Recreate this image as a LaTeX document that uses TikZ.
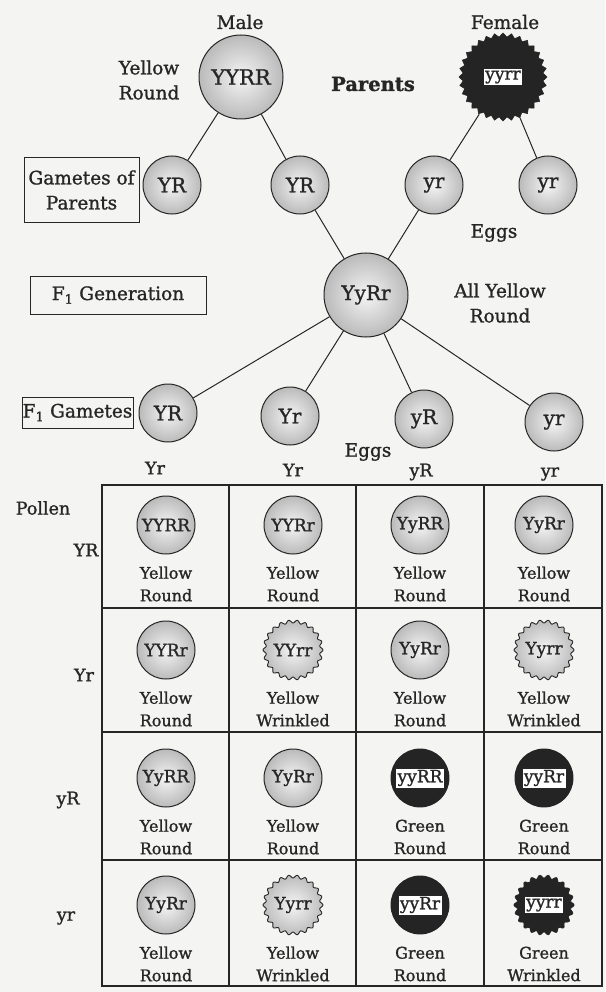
\documentclass[tikz,border=0pt]{standalone}
\usepackage{fontspec}
\setmainfont{DejaVu Serif}[FakeBold=1.2]
\definecolor{paper}{HTML}{F4F4F2}
\definecolor{ink}{HTML}{262626}
\definecolor{peadark}{HTML}{242424}

% white tag carrying a genotype on a dark pea
\newcommand\genobox[1]{{\setlength{\fboxsep}{1.5pt}\setlength{\fboxrule}{0.7pt}\fcolorbox{ink}{white}{#1}}}

% wavy outline round a centre: #1 centre, #2 mean radius, #3 waves, #4 depth, #5 style
\newcommand\wavyoutline[5]{%
  \path[shift={(#1)}, #5] plot[domain=0:360, samples=241, smooth] ({\x}:{#2+#4*cos(#3*\x)}) -- cycle;}

% one Punnett cell: #1 name, #2 x, #3 y, #4 genotype, #5 phenotype
\newcommand\roundcell[5]{%
  \node[pea, celltag] (#1) at (#2,#3) {#4};
  \node[celltext] (#1t) at (#2,#3+59) {#5};}
\newcommand\wrinkledcell[5]{%
  \coordinate (#1c) at (#2,#3);
  \wavyoutline{#1c}{28.5}{22}{1.5}{draw=ink, line width=0.9pt, inner color=black!4, outer color=black!26}
  \node[celltag, inner sep=0pt] (#1) at (#1c) {#4};
  \node[celltext] (#1t) at (#2,#3+59) {#5};}
\newcommand\greencell[5]{%
  \node[greenpea, celltag] (#1) at (#2,#3) {\genobox{#4}};
  \node[celltext] (#1t) at (#2,#3+59) {#5};}
\newcommand\greenwrinkledcell[5]{%
  \coordinate (#1c) at (#2,#3);
  \wavyoutline{#1c}{28.5}{22}{1.6}{draw=peadark, fill=peadark, line width=0.6pt}
  \node[celltag, inner sep=0pt] (#1) at (#1c) {\genobox{#4}};
  \node[celltext] (#1t) at (#2,#3+59) {#5};}

\begin{document}
\begin{tikzpicture}[x=1pt, y=-1pt,
  txt/.style={font=\fontsize{18.5}{25}\selectfont, align=center, inner sep=0pt, text=ink},
  celltext/.style={font=\fontsize{16}{22.5}\selectfont, align=center, inner sep=0pt, text=ink},
  celltag/.style={font=\fontsize{17}{18}\selectfont, text=ink},
  bigtag/.style={font=\fontsize{21}{22}\selectfont, text=ink},
  gamtag/.style={font=\fontsize{20}{21}\selectfont, text=ink},
  pea/.style={circle, draw=ink, line width=1pt, inner sep=0pt, minimum size=#1,
    inner color=black!4, outer color=black!27},
  pea/.default=58pt,
  greenpea/.style={circle, draw=peadark, fill=peadark, line width=0.9pt, inner sep=0pt, minimum size=58pt},
  hook/.style={circle, inner sep=0pt, minimum size=#1},
  link/.style={draw=ink, line width=1pt},
  tagbox/.style={draw=ink, line width=0.9pt, fill=paper, align=center, inner sep=0pt,
    font=\fontsize{18.5}{25}\selectfont, text=ink},
  gridline/.style={draw=ink, line width=1.1pt}]

% paper
\fill[paper] (0,0) rectangle (605,992);
\useasboundingbox (0,0) rectangle (605,992);

% ---------- parents ----------
\node[txt] (malelbl) at (240,22) {Male};
\node[pea=84pt, bigtag] (male) at (241,77) {YYRR};
\node[txt] (maletype) at (149,80) {Yellow\\Round};
\node[txt, font=\bfseries\fontsize{19.5}{22}\selectfont] (parents) at (373,84) {Parents};

\node[txt] (femalelbl) at (505,22) {Female};
\coordinate (femalec) at (503,77);
\path[shift={(femalec)}, fill=peadark, draw=peadark, line width=0.6pt]
  plot[domain=0:360, samples=65] ({\x}:{42+2*cos(32*\x)}) -- cycle;
\node[hook=88pt, font=\fontsize{17}{19}\selectfont, text=ink] (female) at (femalec) {\genobox{yyrr}};

% ---------- parental gametes ----------
\node[tagbox, minimum width=115pt, minimum height=65pt] (gambox) at (81.5,190) {Gametes of\\Parents};
\node[pea, gamtag] (gA) at (172,185) {YR};
\node[pea, gamtag] (gB) at (300,185) {YR};
\node[pea, gamtag] (gC) at (434,185) {yr};
\node[pea, gamtag] (gD) at (548,185) {yr};
\node[txt] (eggsA) at (494,233) {Eggs};

\draw[link] (male) -- (gA);
\draw[link] (male) -- (gB);
\draw[link] (female) -- (gC);
\draw[link] (female) -- (gD);

% ---------- F1 ----------
\node[tagbox, minimum width=176pt, minimum height=38pt] (f1box) at (118,295) {F\textsubscript{1} Generation};
\node[pea=84pt, gamtag] (f1) at (366,295) {YyRr};
\node[txt] (f1type) at (500,303) {All Yellow\\Round};
\draw[link] (gB) -- (f1);
\draw[link] (gC) -- (f1);

% ---------- F1 gametes ----------
\node[tagbox, minimum width=111pt, minimum height=31pt] (hbox) at (77.5,412.5) {F\textsubscript{1} Gametes};
\node[pea, gamtag] (hA) at (168,413) {YR};
\node[pea, gamtag] (hB) at (290,416) {Yr};
\node[pea, gamtag] (hC) at (424,419) {yR};
\node[pea, gamtag] (hD) at (554,422) {yr};
\foreach \g in {hA,hB,hC,hD} \draw[link] (f1) -- (\g);

% ---------- Punnett square ----------
\node[txt] (eggsB) at (368,452) {Eggs};
\node[txt, font=\fontsize{17.5}{20}\selectfont] (colA) at (155,468) {Yr};
\node[txt, font=\fontsize{17.5}{20}\selectfont] (colB) at (293,470) {Yr};
\node[txt, font=\fontsize{17.5}{20}\selectfont] (colC) at (421,472) {yR};
\node[txt, font=\fontsize{17.5}{20}\selectfont] (colD) at (550,474) {yr};
\node[txt, font=\fontsize{17.5}{20}\selectfont] (pollen) at (43,508) {Pollen};
\node[txt, font=\fontsize{17.5}{20}\selectfont] (rowA) at (86,550) {YR};
\node[txt, font=\fontsize{17.5}{20}\selectfont] (rowB) at (84,675) {Yr};
\node[txt, font=\fontsize{17.5}{20}\selectfont] (rowC) at (68,800) {yR};
\node[txt, font=\fontsize{17.5}{20}\selectfont] (rowD) at (66,918) {yr};

\draw[gridline] (102,485) rectangle (602,986);
\foreach \gx in {229,356,484} \draw[gridline] (\gx,485) -- (\gx,986);
\foreach \gy in {608,732,860} \draw[gridline] (102,\gy) -- (602,\gy);

% row YR
\roundcell{c11}{166}{525}{YYRR}{Yellow\\Round}
\roundcell{c12}{293}{525}{YYRr}{Yellow\\Round}
\roundcell{c13}{420}{525}{YyRR}{Yellow\\Round}
\roundcell{c14}{544}{525}{YyRr}{Yellow\\Round}
% row Yr
\roundcell{c21}{166}{650}{YYRr}{Yellow\\Round}
\wrinkledcell{c22}{293}{650}{YYrr}{Yellow\\Wrinkled}
\roundcell{c23}{420}{650}{YyRr}{Yellow\\Round}
\wrinkledcell{c24}{544}{650}{Yyrr}{Yellow\\Wrinkled}
% row yR
\roundcell{c31}{166}{778}{YyRR}{Yellow\\Round}
\roundcell{c32}{293}{778}{YyRr}{Yellow\\Round}
\greencell{c33}{420}{778}{yyRR}{Green\\Round}
\greencell{c34}{544}{778}{yyRr}{Green\\Round}
% row yr
\roundcell{c41}{166}{905}{YyRr}{Yellow\\Round}
\wrinkledcell{c42}{293}{905}{Yyrr}{Yellow\\Wrinkled}
\greencell{c43}{420}{905}{yyRr}{Green\\Round}
\greenwrinkledcell{c44}{544}{905}{yyrr}{Green\\Wrinkled}

\end{tikzpicture}
\end{document}
